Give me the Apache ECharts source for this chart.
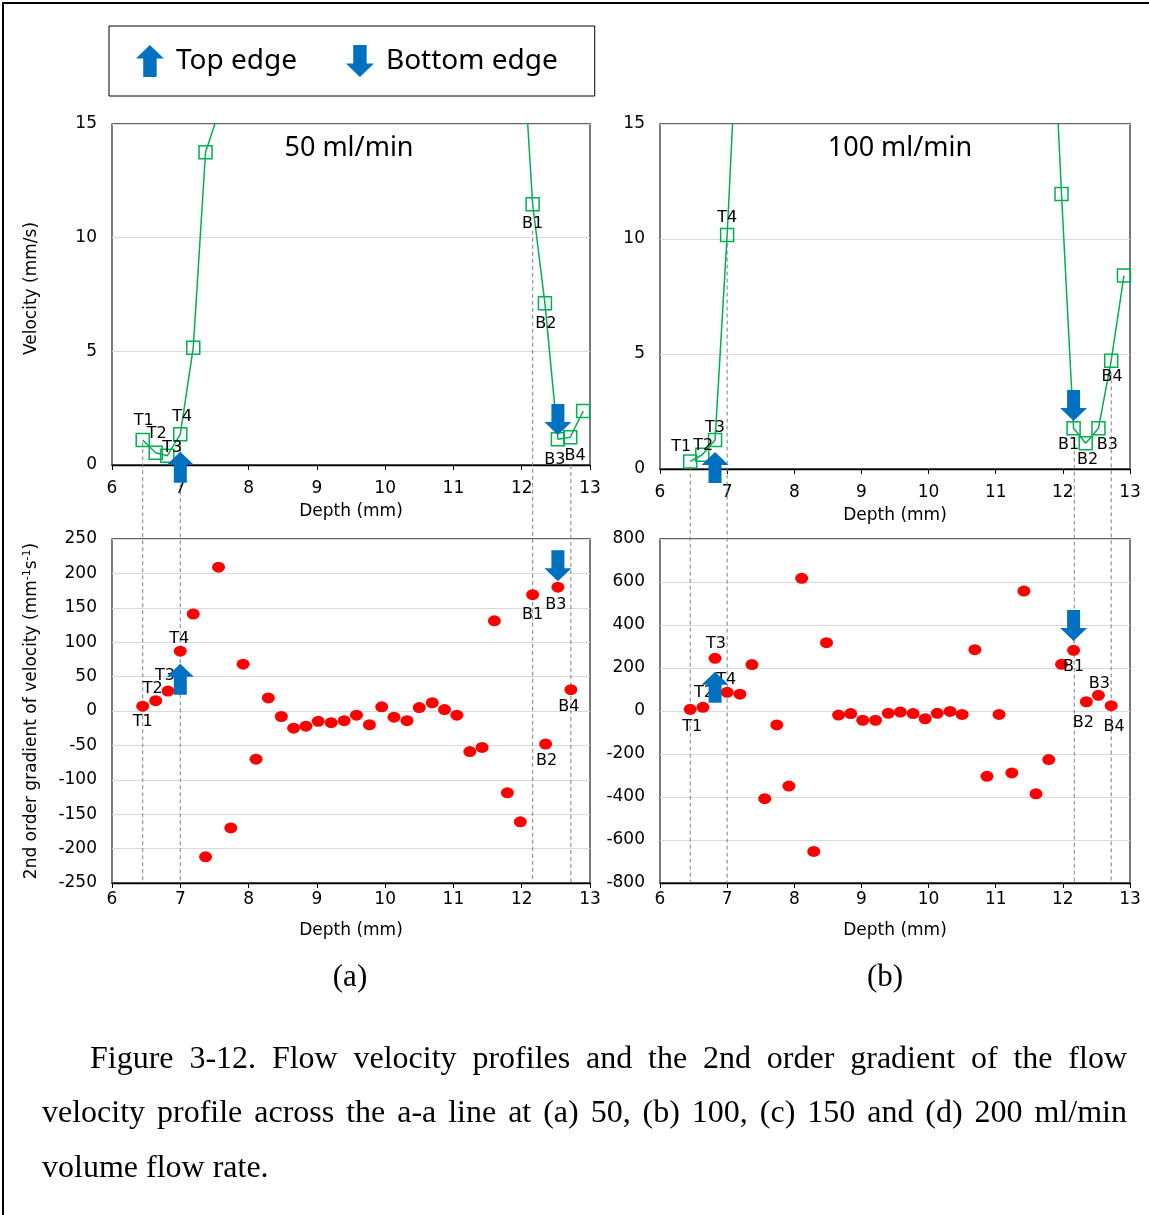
<!DOCTYPE html>
<html lang="en">
<head>
<meta charset="UTF-8">
<title>Flow velocity profiles</title>
<script src="https://cdn.jsdelivr.net/npm/echarts@6/dist/echarts.min.js"></script>
<style>
  body { margin: 0; background: #fff; }
  #frame { position: absolute; left: 2px; top: 2px; width: 1200px; height: 1260px;
           border-left: 2px solid #000; border-top: 2px solid #000; }
  #main { position: absolute; left: 0; top: 0; width: 1149px; height: 1215px; }
  .cap { position: absolute; font-family: 'Liberation Serif', serif; font-size: 32px;
         line-height: 54px; color: #000; }
  .just { text-align: justify; text-align-last: justify; }
</style>
</head>
<body>
<div id="frame"></div>
<div id="main"></div>
<div class="cap just" style="left:90px; top:1030px; width:1037px;">Figure 3-12. Flow velocity profiles and the 2nd order gradient of the flow</div>
<div class="cap just" style="left:42px; top:1084px; width:1085px;">velocity profile across the a-a line at (a) 50, (b) 100, (c) 150 and (d) 200 ml/min</div>
<div class="cap" style="left:42px; top:1139px;">volume flow rate.</div>
<script>
// velocity profiles (top panels)
var depthTop50 = [6.45, 6.64, 6.81, 7.00, 7.19, 7.37, 7.55, 11.98, 12.16, 12.34, 12.53, 12.71, 12.90];
var velTop50 = [1.10, 0.54, 0.41, 1.35, 5.16, 13.76, 15.4, 20.3, 11.47, 7.11, 1.13, 1.22, 2.37];
var tagTop50 = ['T1', 'T2', 'T3', 'T4', '', '', '', '', 'B1', 'B2', 'B3', 'B4', ''];

var depthTop100 = [6.45, 6.63, 6.82, 7.00, 7.19, 11.80, 11.98, 12.16, 12.34, 12.53, 12.72, 12.91];
var velTop100 = [0.33, 0.62, 1.26, 10.17, 21.6, 22.9, 11.96, 1.77, 1.12, 1.77, 4.71, 8.41];
var tagTop100 = ['T1', 'T2', 'T3', 'T4', '', '', '', 'B1', 'B2', 'B3', 'B4', ''];

// 2nd order gradient (bottom panels)
var depthGrad = [6.45, 6.64, 6.82, 7.00, 7.19, 7.37, 7.56, 7.74, 7.92, 8.11, 8.29, 8.48, 8.66, 8.84, 9.02, 9.21, 9.40, 9.58,
  9.77, 9.95, 10.13, 10.32, 10.50, 10.69, 10.87, 11.05, 11.24, 11.42, 11.60, 11.79, 11.98, 12.16, 12.35, 12.53, 12.72];
var grad50 = [7, 15, 29, 87, 141, -212, 209, -170, 68, -70, 19, -8, -25, -22, -15, -17, -14, -6,
  -20, 6, -9, -14, 5, 12, 2, -6, -59, -53, 131, -119, -161, 169, -48, 180, 31];
var grad100 = [8, 17, 245, 87, 78, 216, -408, -65, -349, 617, -653, 318, -19, -12, -43, -43, -11, -5,
  -12, -36, -11, -2, -16, 285, -304, -16, -288, 558, -385, -226, 217, 282, 43, 73, 25];
var tagGrad = ['T1', 'T2', 'T3', 'T4', '', '', '', '', '', '', '', '', '', '', '', '', '', '',
  '', '', '', '', '', '', '', '', '', '', '', '', '', 'B1', 'B2', 'B3', 'B4'];

// edge arrows: [50 ml/min, 100 ml/min]
var topEdgeDepth = [7.00, 6.82];
var topEdgeVel = [-0.1, 0.07];
var topEdgeGrad = [46, 110];
var botEdgeDepth = [12.53, 12.16];
var botEdgeVel = [2.0, 2.76];
var botEdgeGrad = [211, 398];

// dashed guide lines (depth, velocity where the line starts)
var guideDepth50 = [6.45, 7.00, 12.16, 12.72];
var guideStart50 = [1.0, 1.0, 10.3, 0];
var guideDepth100 = [6.45, 7.00, 12.17, 12.72];
var guideStart100 = [0.1, 9.8, 1.1, 4.2];

var FONT = '"DejaVu Sans", sans-serif';
var UP = 'path://M13.5,0 L27,13 L20,13 L20,31 L7,31 L7,13 L0,13 Z';
var DOWN = 'path://M7,0 L20,0 L20,18 L27,18 L13.5,31 L0,18 L7,18 Z';
var BLUE = '#0070C0';

// label offsets (px) relative to the marker
var labTop50 = { T1: [1, -19], T2: [1, -19], T3: [5, -8], T4: [2, -17], B1: [0, 20], B2: [1, 20], B3: [-3, 21], B4: [5, 19] };
var labTop100 = { T1: [-9, -15], T2: [1, -9], T3: [0, -12], T4: [0, -17], B1: [-5, 17], B2: [2, 17], B3: [9, 17], B4: [1, 16] };
var labGrad50 = { T1: [0, 16], T2: [-3, -12], T3: [-3, -15], T4: [-1, -12], B1: [0, 20], B2: [1, 17], B3: [-2, 18], B4: [-2, 17] };
var labGrad100 = { T1: [2, 18], T2: [1, -15], T3: [1, -14], T4: [-1, -12], B1: [0, 16], B2: [-3, 21], B3: [1, -11], B4: [3, 21] };

function pts(xs, ys, tags, labs) {
  return xs.map(function (x, i) {
    var item = { value: [x, ys[i], tags[i]] };
    if (tags[i]) item.label = { show: true, position: 'inside', offset: labs[tags[i]] };
    return item;
  });
}

var tagLabel = {
  show: false, color: '#000', fontSize: 16, fontFamily: FONT,
  formatter: function (p) { return p.value[2]; }
};

function xAxisOf(grid, extra) {
  return Object.assign({
    type: 'value', gridIndex: grid, min: 6, max: 13, interval: 1,
    name: 'Depth (mm)', nameLocation: 'middle', nameGap: 38,
    nameTextStyle: { fontSize: 17, color: '#000', fontFamily: FONT },
    axisLabel: { fontSize: 17, color: '#000', fontFamily: FONT, margin: 15 },
    axisTick: { show: true, length: 5, lineStyle: { color: '#000' } },
    axisLine: { onZero: false, lineStyle: { color: '#000', width: 1.3 } },
    splitLine: { show: false }
  }, extra);
}

function yAxisOf(grid, min, max, step, extra) {
  return Object.assign({
    type: 'value', gridIndex: grid, min: min, max: max, interval: step,
    axisLabel: { fontSize: 17, color: '#000', fontFamily: FONT, margin: 15 },
    axisTick: { show: false },
    axisLine: { show: false },
    splitLine: { lineStyle: { color: '#d9d9d9', width: 1 } }
  }, extra);
}

function zeroAxis(grid) {
  return {
    type: 'value', gridIndex: grid, min: 6, max: 13, interval: 1, position: 'bottom',
    axisLabel: { show: false },
    axisTick: { show: true, length: 5, lineStyle: { color: '#000' } },
    axisLine: { onZero: true, lineStyle: { color: '#000', width: 1.3 } },
    splitLine: { show: false }
  };
}

function arrow(name, sym, xi, yi, x, y) {
  return {
    name: name, type: 'scatter', xAxisIndex: xi, yAxisIndex: yi, clip: false, z: 5,
    symbol: sym, symbolSize: [27, 31], symbolKeepAspect: false,
    itemStyle: { color: BLUE, opacity: 1 }, data: [[x, y]], silent: true
  };
}

function velocityLine(xi, yi, data) {
  return {
    type: 'line', xAxisIndex: xi, yAxisIndex: yi, data: data,
    symbol: 'rect', symbolSize: 13, showAllSymbol: true,
    lineStyle: { color: '#00B050', width: 1.5 },
    itemStyle: { color: 'rgba(255,255,255,0)', borderColor: '#00B050', borderWidth: 1.5 },
    label: tagLabel, z: 3
  };
}

function gradDots(xi, yi, data) {
  return {
    type: 'scatter', xAxisIndex: xi, yAxisIndex: yi, data: data,
    symbol: 'circle', symbolSize: [13, 11],
    itemStyle: { color: '#ff0000', opacity: 1 }, label: tagLabel, z: 3
  };
}

var gridBase = { show: true, borderColor: '#333', borderWidth: 1.3, backgroundColor: 'transparent' };
var bottomLabels = { fontSize: 17, color: '#000', fontFamily: FONT, margin: 8 };

var chart = echarts.init(document.getElementById('main'));
chart.setOption({
  animation: false,
  textStyle: { fontFamily: FONT },
  legend: {
    left: 109, top: 26, orient: 'horizontal', selectedMode: false,
    borderColor: '#000', borderWidth: 1, padding: [19, 37, 19, 27],
    itemWidth: 28, itemHeight: 32, itemGap: 49,
    itemStyle: { opacity: 1 },
    textStyle: { fontSize: 28, fontFamily: 'Noto Sans', color: '#000', padding: [0, 0, 0, 7] },
    data: [{ name: 'Top edge', icon: UP }, { name: 'Bottom edge', icon: DOWN }]
  },
  grid: [
    Object.assign({ left: 112, top: 124, width: 478, height: 341 }, gridBase),
    Object.assign({ left: 660, top: 124, width: 470, height: 345 }, gridBase),
    Object.assign({ left: 112, top: 539, width: 478, height: 344 }, gridBase),
    Object.assign({ left: 660, top: 539, width: 470, height: 344 }, gridBase)
  ],
  xAxis: [
    xAxisOf(0),
    xAxisOf(1),
    xAxisOf(2, { axisLine: { show: false }, axisTick: { show: false }, axisLabel: bottomLabels, nameGap: 39 }),
    xAxisOf(3, { axisLine: { show: false }, axisTick: { show: false }, axisLabel: bottomLabels, nameGap: 39 }),
    zeroAxis(2),
    zeroAxis(3)
  ],
  yAxis: [
    yAxisOf(0, 0, 15, 5, {
      name: 'Velocity (mm/s)', nameLocation: 'middle', nameRotate: 90, nameGap: 72,
      nameTextStyle: { fontSize: 17, color: '#000', fontFamily: FONT, padding: [0, 0, 0, 12] }
    }),
    yAxisOf(1, 0, 15, 5),
    yAxisOf(2, -250, 250, 50, {
      name: '{n|2nd order gradient of velocity (mm}{s|-1}{n|s}{s|-1}{n|)}',
      nameLocation: 'middle', nameRotate: 90, nameGap: 70,
      nameTextStyle: {
        rich: {
          n: { fontSize: 17, color: '#000', fontFamily: FONT, lineHeight: 20 },
          s: { fontSize: 11, color: '#000', fontFamily: FONT, verticalAlign: 'top', lineHeight: 20 }
        }
      }
    }),
    yAxisOf(3, -800, 800, 200)
  ],
  series: [
    velocityLine(0, 0, pts(depthTop50, velTop50, tagTop50, labTop50)),
    velocityLine(1, 1, pts(depthTop100, velTop100, tagTop100, labTop100)),
    gradDots(2, 2, pts(depthGrad, grad50, tagGrad, labGrad50)),
    gradDots(3, 3, pts(depthGrad, grad100, tagGrad, labGrad100)),
    arrow('Top edge', UP, 0, 0, topEdgeDepth[0], topEdgeVel[0]),
    arrow('Top edge', UP, 2, 2, topEdgeDepth[0], topEdgeGrad[0]),
    arrow('Top edge', UP, 1, 1, topEdgeDepth[1], topEdgeVel[1]),
    arrow('Top edge', UP, 3, 3, topEdgeDepth[1], topEdgeGrad[1]),
    arrow('Bottom edge', DOWN, 0, 0, botEdgeDepth[0], botEdgeVel[0]),
    arrow('Bottom edge', DOWN, 2, 2, botEdgeDepth[0], botEdgeGrad[0]),
    arrow('Bottom edge', DOWN, 1, 1, botEdgeDepth[1], botEdgeVel[1]),
    arrow('Bottom edge', DOWN, 3, 3, botEdgeDepth[1], botEdgeGrad[1])
  ]
});

// dashed guides run from the velocity panel down through the gradient panel
var graphics = [];
function guides(xs, starts, topAxes, botAxes, yMin) {
  xs.forEach(function (x, i) {
    var p1 = chart.convertToPixel(topAxes, [x, starts[i]]);
    var p2 = chart.convertToPixel(botAxes, [x, yMin]);
    graphics.push({
      type: 'line', z: 1, silent: true,
      shape: { x1: p1[0], y1: p1[1], x2: p1[0], y2: p2[1] },
      style: { stroke: '#7f7f7f', lineWidth: 1, lineDash: [4, 3] }
    });
  });
}
guides(guideDepth50, guideStart50, { xAxisIndex: 0, yAxisIndex: 0 }, { xAxisIndex: 2, yAxisIndex: 2 }, -250);
guides(guideDepth100, guideStart100, { xAxisIndex: 1, yAxisIndex: 1 }, { xAxisIndex: 3, yAxisIndex: 3 }, -800);

function label(text, x, y, font) {
  graphics.push({
    type: 'text', x: x, y: y, silent: true,
    style: { text: text, font: font, fill: '#000', textAlign: 'center', textVerticalAlign: 'middle' }
  });
}
label('50 ml/min', 349, 148, '27px "Noto Sans"');
label('100 ml/min', 900, 148, '27px "Noto Sans"');
label('(a)', 350, 978, '31px "Liberation Serif"');
label('(b)', 885, 978, '31px "Liberation Serif"');

chart.setOption({ graphic: graphics });
</script>
</body>
</html>
